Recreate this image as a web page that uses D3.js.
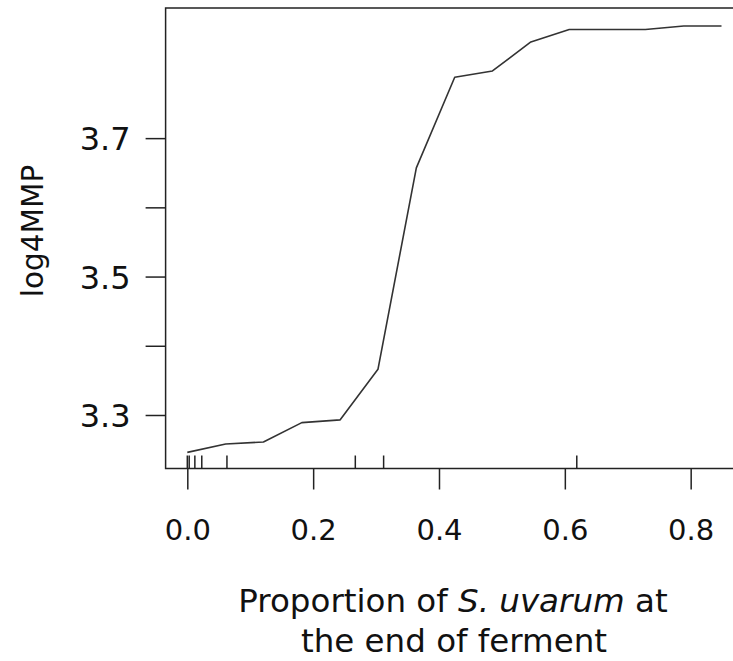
<!DOCTYPE html>
<html>
<head>
<meta charset="utf-8">
<script src="https://cdn.jsdelivr.net/npm/d3@7"></script>
<style>
  html, body { margin: 0; padding: 0; background: #fff; }
  svg { display: block; }
  text { font-family: "DejaVu Sans", Verdana, sans-serif; fill: #111; }
</style>
</head>
<body>
<svg id="chart" width="733" height="661"></svg>
<script>
// Partial dependence of log4MMP on proportion of S. uvarum
const xValues = [0, 0.061, 0.121, 0.182, 0.243, 0.303, 0.364, 0.425, 0.485, 0.546, 0.607, 0.667, 0.728, 0.789, 0.849];
const yValues = [3.246, 3.258, 3.261, 3.289, 3.293, 3.366, 3.657, 3.788, 3.797, 3.839, 3.857, 3.857, 3.857, 3.862, 3.862];
const rugValues = [0, 0.003, 0.012, 0.023, 0.063, 0.267, 0.312, 0.619];
const xTicks = [0, 0.2, 0.4, 0.6, 0.8];
const yTicks = [3.3, 3.4, 3.5, 3.6, 3.7];
const yTickLabels = ["3.3", "", "3.5", "", "3.7"];
const yTitle = "log4MMP";

const svg = d3.select("#chart");
const pL = 165.6, pR = 742.9, pT = 8, pB = 468.5;

const x = d3.scaleLinear().domain([-0.0345, 0.883]).range([pL, pR]);
const y = d3.scaleLinear().domain([3.2227, 3.888]).range([pB, pT]);

const ink = "#222";

// Box (right side falls outside the window)
svg.append("rect")
  .attr("x", pL).attr("y", pT)
  .attr("width", pR - pL).attr("height", pB - pT)
  .attr("fill", "none").attr("stroke", ink).attr("stroke-width", 1.5);

// X axis
const xAxis = d3.axisBottom(x).tickValues(xTicks).tickSize(21).tickPadding(0)
  .tickFormat(d3.format(".1f"));
const gx = svg.append("g").attr("transform", `translate(0,${pB})`).call(xAxis);
gx.select(".domain").remove();
gx.selectAll(".tick line").attr("stroke", ink).attr("stroke-width", 1.5);
gx.selectAll(".tick text")
  .attr("y", 71).attr("dy", null)
  .style("font-size", "29px").style("font-family", null);

// Y axis
const yAxis = d3.axisLeft(y).tickValues(yTicks).tickSize(20).tickPadding(0)
  .tickFormat((d, i) => yTickLabels[i]);
const gy = svg.append("g").attr("transform", `translate(${pL},0)`).call(yAxis);
gy.select(".domain").remove();
gy.selectAll(".tick line").attr("stroke", ink).attr("stroke-width", 1.5);
gy.selectAll(".tick text")
  .attr("x", -35).attr("dy", "0.36em")
  .style("font-size", "32px").style("font-family", null);

// Rug
svg.append("g").selectAll("line").data(rugValues).join("line")
  .attr("x1", d => x(d)).attr("x2", d => x(d))
  .attr("y1", pB).attr("y2", pB - 13)
  .attr("stroke", ink).attr("stroke-width", 1.5);

// Line
const line = d3.line().x(d => x(d[0])).y(d => y(d[1]));
svg.append("path")
  .datum(xValues.map((v, i) => [v, yValues[i]]))
  .attr("d", line)
  .attr("fill", "none").attr("stroke", "#333").attr("stroke-width", 1.6)
  .attr("stroke-linejoin", "round");

// Y title
svg.append("text")
  .attr("transform", "translate(43,231) rotate(-90)")
  .attr("text-anchor", "middle")
  .style("font-size", "29.5px")
  .text(yTitle);

// X title
const xt = svg.append("text").attr("text-anchor", "middle").style("font-size", "32.5px");
const l1 = xt.append("tspan").attr("x", 453).attr("y", 612);
l1.append("tspan").text("Proportion of ");
l1.append("tspan").style("font-style", "italic").text("S. uvarum");
l1.append("tspan").text(" at");
xt.append("tspan").attr("x", 454).attr("y", 652).text("the end of ferment");
</script>
</body>
</html>
